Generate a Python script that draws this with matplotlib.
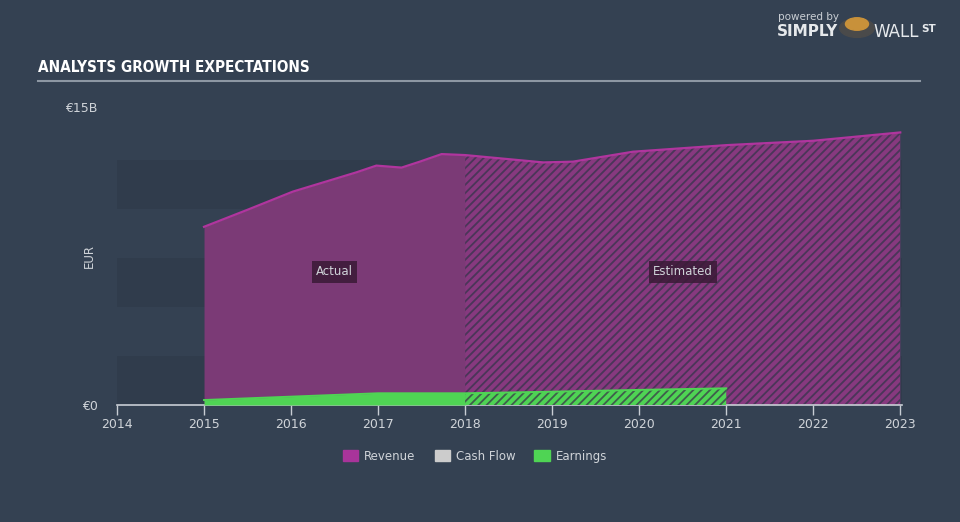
import matplotlib
matplotlib.use('Agg')
import matplotlib.pyplot as plt
from matplotlib.patches import Patch
import numpy as np

# revenue, EUR billions (actual up to 2018, estimates after)
rev_actual_x = [2015.0, 2015.49, 2016.02, 2016.75, 2016.98, 2017.27, 2017.48, 2017.73, 2018.0]
rev_actual_y = [8.97, 9.81, 10.74, 11.71, 12.05, 11.95, 12.25, 12.63, 12.58]
rev_est_x = [2018.0, 2018.9, 2019.24, 2019.93, 2021.0, 2022.0, 2023.0]
rev_est_y = [12.58, 12.21, 12.25, 12.75, 13.08, 13.30, 13.72]

# earnings, EUR billions
earn_actual_x = [2015.0, 2016.0, 2017.0, 2018.0]
earn_actual_y = [0.25, 0.42, 0.59, 0.59]
earn_est_x = [2018.0, 2019.0, 2020.0, 2021.0]
earn_est_y = [0.59, 0.67, 0.76, 0.84]

years = list(range(2014, 2024))
bands = [(0, 2.45), (4.93, 7.4), (9.86, 12.33)]

bg = '#344152'
purple = '#7b3a76'
purple_line = '#b0359e'
green = '#4fd454'
txt = '#d0d4d9'

plt.rcParams['hatch.linewidth'] = 1.3

fig = plt.figure(figsize=(9.6, 5.22), dpi=100, facecolor=bg)
ax = fig.add_axes([117/960, 1 - 405/522, (902-117)/960, (405-107)/522])
ax.set_facecolor(bg)

for lo, hi in bands:
    ax.axhspan(lo, hi, color='#303c4c', lw=0, zorder=0)

# revenue
ax.fill_between(rev_actual_x, 0, rev_actual_y, color=purple, lw=0, zorder=2)
ax.fill_between(rev_est_x, 0, rev_est_y, facecolor='#87397f', edgecolor='#4a3658',
                hatch='////', lw=0, zorder=2)
ax.plot(rev_actual_x + rev_est_x[1:], rev_actual_y + rev_est_y[1:], color=purple_line, lw=1.6, zorder=3)

# earnings
ax.fill_between(earn_actual_x, 0, earn_actual_y, color=green, lw=0, zorder=4)
ax.fill_between(earn_est_x, 0, earn_est_y, facecolor='#4fd454', edgecolor='#3f5e4c',
                hatch='////', lw=0, zorder=4)
ax.plot(earn_actual_x + earn_est_x[1:], earn_actual_y + earn_est_y[1:], color=green, lw=1.4, zorder=5)

box = dict(boxstyle='square,pad=0.35', fc='#3a1a36', ec='none', alpha=0.85)
ax.text(2016.5, 6.7, 'Actual', color=txt, fontsize=8.5, ha='center', va='center', bbox=box, zorder=6)
ax.text(2020.5, 6.7, 'Estimated', color=txt, fontsize=8.5, ha='center', va='center', bbox=box, zorder=6)

ax.set_xlim(2014, 2023.02)
ax.set_ylim(0, 15)
ax.set_xticks(years)
ax.set_xticklabels([str(y) for y in years], color=txt, fontsize=9)
ax.set_yticks([0, 15])
ax.set_yticklabels(['€0', '€15B'], color=txt, fontsize=9)
ax.tick_params(axis='y', length=0, pad=14)
ax.tick_params(axis='x', length=7, color='#c8cdd4', width=1, pad=2)
for s in ['top', 'right', 'left']:
    ax.spines[s].set_visible(False)
ax.spines['bottom'].set_color('#c8cdd4')
ax.spines['bottom'].set_linewidth(1.2)
ax.set_ylabel('EUR', color=txt, fontsize=8.5, labelpad=2)
ax.yaxis.set_label_coords(-0.027, 0.5)

# title and rule
fig.text(38/960, 1 - 68/522, 'ANALYSTS GROWTH EXPECTATIONS', color='white', fontsize=11,
         fontweight='bold', family='DejaVu Sans', fontstretch='condensed', va='center')
fig.add_artist(plt.Line2D([38/960, 920/960], [1 - 81/522, 1 - 81/522], color='#8d97a3', lw=1.5))

# logo text
fig.text(778/960, 1 - 17/522, 'powered by', color='#c9ced4', fontsize=7.5, va='center')
fig.text(777/960, 1 - 32/522, 'SIMPLY', color='#e6e9ec', fontsize=11, fontweight='bold', va='center')
fig.text(873/960, 1 - 32/522, 'WALL', color='#e6e9ec', fontsize=12, va='center')
fig.text(921/960, 1 - 29/522, 'ST', color='#e6e9ec', fontsize=7.5, fontweight='bold', va='center')
fig.add_artist(plt.Circle((857/960, 1 - 28/522), 0.018, transform=fig.transFigure, color='#4a4a4a'))
fig.add_artist(plt.Circle((857/960, 1 - 24/522), 0.012, transform=fig.transFigure, color='#c8913a'))

handles = [Patch(color='#a8349a', label='Revenue'),
           Patch(color='#cccccc', label='Cash Flow'),
           Patch(color=green, label='Earnings')]
leg = fig.legend(handles=handles, loc='center', bbox_to_anchor=(475/960, 1 - 456/522), ncol=3,
                 frameon=False, fontsize=8.5, handlelength=1.3, handleheight=1.1,
                 columnspacing=1.6, handletextpad=0.5)
for t in leg.get_texts():
    t.set_color(txt)

fig.savefig('out.png', dpi=100, facecolor=bg)
